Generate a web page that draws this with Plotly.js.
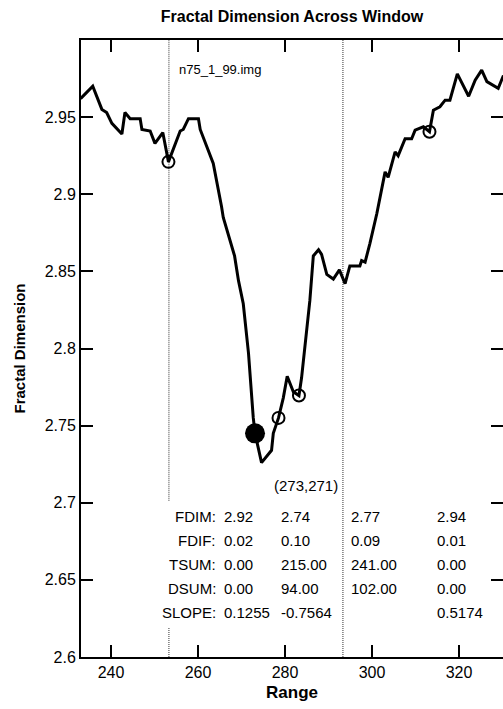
<!DOCTYPE html>
<html>
<head>
<meta charset="utf-8">
<script src="https://cdn.plot.ly/plotly-3.0.1.min.js"></script>
<style>html,body{margin:0;padding:0;background:#fff;}#chart{width:503px;height:709px;}</style>
</head>
<body>
<div id="chart"></div>
<script>
// ---- data ----
const rangeX = [233.0, 235.8, 237.9, 239.0, 240.2, 242.5, 243.2, 244.4, 246.7, 247.1, 249.0, 250.1, 251.9, 253.2,
  255.9, 256.6, 257.8, 260.1, 260.5, 263.1, 263.5, 265.4, 265.8, 268.4, 269.3, 270.4, 271.6, 272.7, 273.1,
  274.6, 276.9, 277.3, 278.5, 279.6, 280.5, 281.9, 283.2, 283.8, 285.7, 286.5, 287.7, 288.4, 289.6, 291.1,
  292.5, 293.8, 294.9, 297.2, 297.6, 298.4, 299.5, 301.1, 303.0, 303.7, 305.3, 306.0, 307.6, 309.1, 309.9,
  311.8, 313.2, 314.1, 315.6, 316.8, 317.9, 319.6, 322.2, 323.7, 325.2, 326.4, 329.0, 330.2];
const fractalDim = [2.962, 2.970, 2.955, 2.953, 2.946, 2.939, 2.953, 2.949, 2.949, 2.942, 2.941, 2.933, 2.940, 2.921,
  2.941, 2.942, 2.949, 2.949, 2.942, 2.923, 2.920, 2.892, 2.885, 2.860, 2.844, 2.829, 2.797, 2.755, 2.745,
  2.726, 2.734, 2.745, 2.755, 2.768, 2.782, 2.772, 2.7695, 2.781, 2.831, 2.860, 2.864, 2.861, 2.848, 2.845,
  2.851, 2.842, 2.8535, 2.8535, 2.857, 2.856, 2.868, 2.8875, 2.9145, 2.911, 2.9275, 2.925, 2.936, 2.936, 2.9416,
  2.9437, 2.9405, 2.9545, 2.9567, 2.961, 2.961, 2.978, 2.9635, 2.974, 2.9805, 2.973, 2.9687, 2.977];
const openMarkX = [253.2, 278.5, 283.2, 313.2];
const openMarkY = [2.921, 2.755, 2.7695, 2.9405];
const minMarkX = [273.1];
const minMarkY = [2.745];
const windowBounds = [253.3, 293.3];
const yTickVals = [2.6, 2.65, 2.7, 2.75, 2.8, 2.85, 2.9, 2.95];
const yTickText = ['2.6', '2.65', '2.7', '2.75', '2.8', '2.85', '2.9', '2.95'];
const xTickVals = [240, 260, 280, 300, 320];
const rowLabels = ['FDIM:', 'FDIF:', 'TSUM:', 'DSUM:', 'SLOPE:'];
const col1 = ['2.92', '0.02', '0.00', '0.00', '0.1255'];
const col2 = ['2.74', '0.10', '215.00', '94.00', '-0.7564'];
const col3 = ['2.77', '0.09', '241.00', '102.00', ''];
const col4 = ['2.94', '0.01', '0.00', '0.00', '0.5174'];
const fileLabel = 'n75_1_99.img';
const minLabel = '(273,271)';

// ---- layout helpers ----
const FONT = 'Liberation Sans, Arial, Helvetica, sans-serif';
const rowY = [2.6909, 2.6753, 2.6597, 2.6442, 2.6286];
const colX = [265.7, 278.85, 294.95, 314.7];

const traces = [
  {x: rangeX, y: fractalDim, mode: 'lines', line: {color: '#000', width: 3}, hoverinfo: 'skip'},
  {x: openMarkX, y: openMarkY, mode: 'markers',
   marker: {symbol: 'circle-open', size: 12, color: '#000', line: {width: 2, color: '#000'}}},
  {x: minMarkX, y: minMarkY, mode: 'markers', marker: {symbol: 'circle', size: 20, color: '#000'}}
];

const dotted = {color: '#777', width: 1.5, dash: '1px,1px'};
const shapes = [
  {type: 'line', xref: 'x', yref: 'y', x0: windowBounds[0], x1: windowBounds[0], y0: 2.7013, y1: 3.0, line: dotted, layer: 'below'},
  {type: 'line', xref: 'x', yref: 'y', x0: windowBounds[0], x1: windowBounds[0], y0: 2.6, y1: 2.6188, line: dotted, layer: 'below'},
  {type: 'line', xref: 'x', yref: 'y', x0: windowBounds[1], x1: windowBounds[1], y0: 2.6, y1: 3.0, line: dotted, layer: 'below'}
];

const annotations = [];
const tfont = {family: FONT, size: 15, color: '#000'};
rowLabels.forEach((lab, i) => {
  annotations.push({xref: 'x', yref: 'y', x: 264.3, y: rowY[i], text: lab, showarrow: false,
    xanchor: 'right', yanchor: 'middle', font: tfont, borderpad: 0});
  [col1, col2, col3, col4].forEach((col, j) => {
    if (col[i] !== '') annotations.push({xref: 'x', yref: 'y', x: colX[j], y: rowY[i], text: col[i], showarrow: false,
      xanchor: 'left', yanchor: 'middle', font: tfont, borderpad: 0});
  });
});
annotations.push({xref: 'x', yref: 'y', x: 277.3, y: 2.711, text: minLabel, showarrow: false,
  xanchor: 'left', yanchor: 'middle', font: tfont, borderpad: 0});
annotations.push({xref: 'x', yref: 'y', x: 255.3, y: 2.981, text: fileLabel, showarrow: false,
  xanchor: 'left', yanchor: 'middle', font: {family: FONT, size: 13, color: '#000'}, borderpad: 0});

const axisCommon = {
  showline: true, linewidth: 2, linecolor: '#000', mirror: 'ticks',
  ticks: 'inside', ticklen: 12, tickwidth: 2, tickcolor: '#000',
  showgrid: false, zeroline: false,
  tickfont: {family: FONT, size: 16, color: '#000'}
};

const layout = {
  width: 503, height: 709,
  margin: {l: 81, r: 0, t: 40, b: 52},
  paper_bgcolor: '#fff', plot_bgcolor: '#fff',
  showlegend: false,
  title: {text: '<b>Fractal Dimension Across Window</b>', x: 0.5805, xanchor: 'center', y: 0.977, yanchor: 'middle',
    font: {family: FONT, size: 16, color: '#000'}},
  xaxis: Object.assign({}, axisCommon, {range: [233.1, 330.1], tickvals: xTickVals,
    title: {text: '<b>Range</b>', font: {family: FONT, size: 17, color: '#000'}, standoff: 6}}),
  yaxis: Object.assign({}, axisCommon, {range: [2.6, 3.0], tickvals: yTickVals, ticktext: yTickText,
    title: {text: '<b>Fractal Dimension</b>', font: {family: FONT, size: 15, color: '#000'}, standoff: 15}}),
  shapes: shapes,
  annotations: annotations
};

Plotly.newPlot('chart', traces, layout, {displayModeBar: false, staticPlot: true});
</script>
</body>
</html>
